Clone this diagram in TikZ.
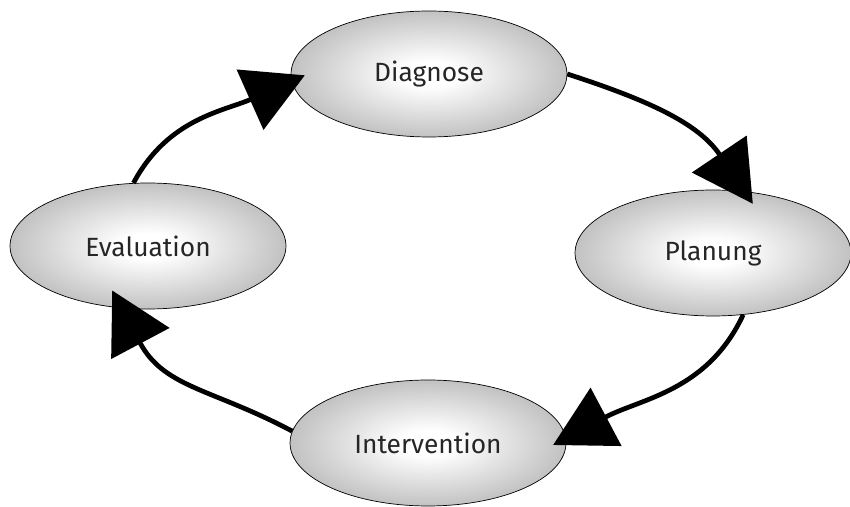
\documentclass[tikz,border=0pt]{standalone}
\usepackage{fontspec}
\setmainfont{Fira Sans}
\usepackage{xcolor}
\usetikzlibrary{shapes.geometric,arrows.meta}

% white middle, grey rim
\pgfdeclareradialshading{phaseshading}{\pgfpoint{0bp}{0bp}}{%
    color(0bp)=(white); color(5bp)=(white);
    color(25bp)=(black!24); color(50bp)=(black!24)}

\begin{document}
\begin{tikzpicture}[x=0.02cm, y=0.02cm,
        phase/.style = {draw,
            ellipse,
            thin,
            minimum width=5.52cm,
            minimum height=2.52cm,
            shading=phaseshading,
            font=\fontsize{15}{18}\selectfont,
            text=black!85},
        flow/.style = {line width=0.095cm,
            -{Triangle[length=1.2cm,width=1.3cm]}}]

    \useasboundingbox (0,0) rectangle (850,507);

    % The four phases
    \node[phase] (diagnose) at (429,433) {Diagnose};
    \node[phase] (planung) at (713,254) {Planung};
    \node[phase] (intervention) at (428,64) {Intervention};
    \node[phase] (evaluation) at (148,261) {Evaluation};

    % Arrows round the cycle, tips reaching a bit into the ellipses
    \draw[flow, shorten >=-0.29cm] (evaluation.103) to[out=62, in=204] (diagnose.183);
    \draw[flow, shorten >=-0.3cm] (diagnose.east) to[out=-18, in=124] (planung.63);
    \draw[flow, shorten >=-0.29cm] (planung.-64) to[out=-115, in=28] (intervention.2);
    \draw[flow, shorten >=-0.4cm] (intervention.175) to[out=152, in=-62, looseness=1.1] (evaluation.247);

\end{tikzpicture}
\end{document}
